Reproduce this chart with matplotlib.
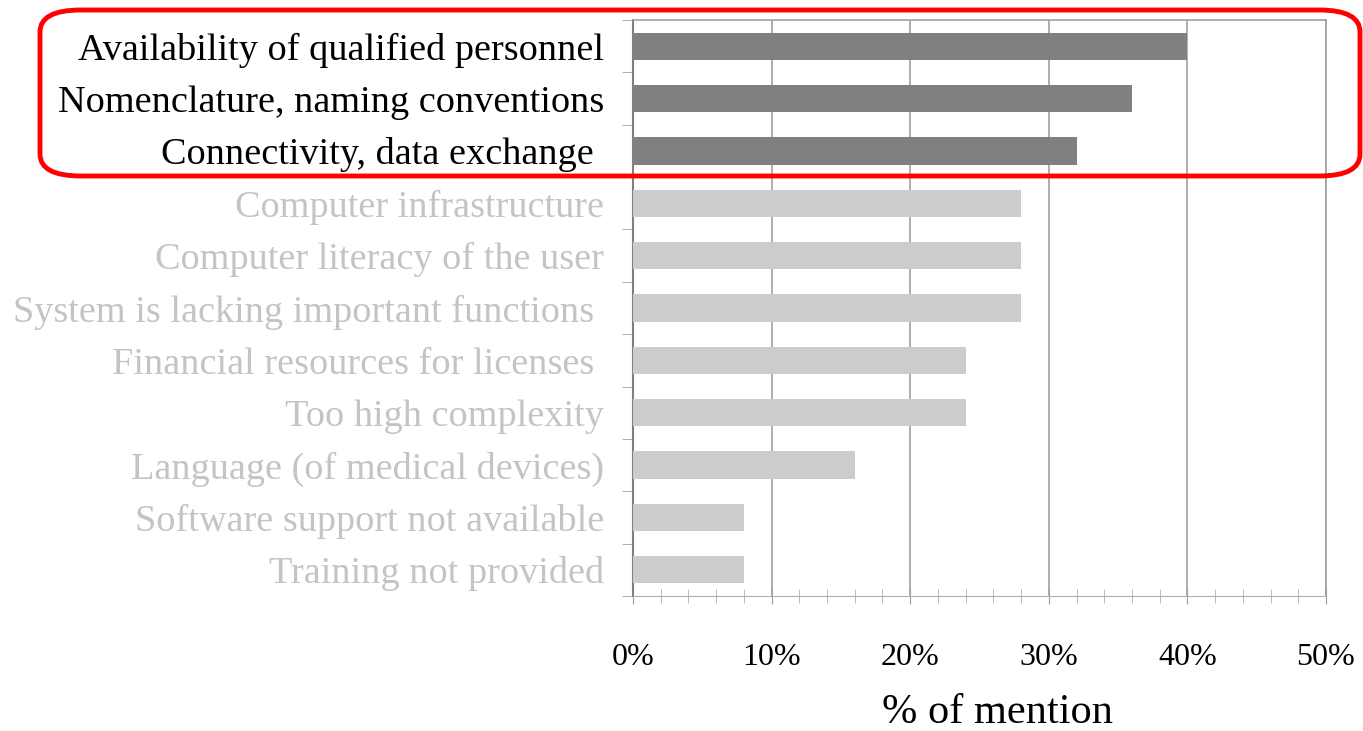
import numpy as np
import matplotlib
matplotlib.use("Agg")
import matplotlib.pyplot as plt
from matplotlib.patches import FancyBboxPatch

categories = [
    "Availability of qualified personnel",
    "Nomenclature, naming conventions",
    "Connectivity, data exchange ",
    "Computer infrastructure",
    "Computer literacy of the user",
    "System is lacking important functions ",
    "Financial resources for licenses ",
    "Too high complexity",
    "Language (of medical devices)",
    "Software support not available",
    "Training not provided",
]
values = [40, 36, 32, 28, 28, 28, 24, 24, 16, 8, 8]
highlighted = [True, True, True, False, False, False, False, False, False, False, False]
x_ticks = [0, 10, 20, 30, 40, 50]
x_tick_labels = ["0%", "10%", "20%", "30%", "40%", "50%"]

plt.rcParams['font.family'] = ['Liberation Serif', 'DejaVu Serif']

fig = plt.figure(figsize=(13.63, 7.31), dpi=100)
ax = fig.add_axes([633 / 1363, 1 - 596 / 731, (1326 - 633) / 1363, (596 - 20) / 731])

y = np.arange(len(categories))
dark = "#808080"
faded = "#cccccc"
faded_text = "#c4c4c4"
colors = [dark if h else faded for h in highlighted]

ax.set_axisbelow(True)
ax.xaxis.grid(True, which="major", color="#a0a0a0", linewidth=1.2)
ax.barh(y, values, height=0.52, color=colors, zorder=3)

ax.set_xlim(0, 50)
ax.set_ylim(len(categories) - 0.5, -0.5)

ax.set_xticks(x_ticks)
ax.set_xticklabels(x_tick_labels, fontsize=23)
ax.set_xticks(np.arange(0, 51, 2), minor=True)
ax.tick_params(axis="x", which="major", direction="inout", length=12, pad=28, color="#a0a0a0")
ax.tick_params(axis="x", which="minor", direction="inout", length=10, color="#b0b0b0")

ax.set_yticks(y)
ax.set_yticklabels(categories, fontsize=27.5)
ax.set_yticks(np.arange(-0.5, len(categories), 1), minor=True)
ax.tick_params(axis="y", which="major", length=0, pad=21)
ax.tick_params(axis="y", which="minor", direction="out", length=8, color="#a0a0a0")
for lbl, h in zip(ax.get_yticklabels(), highlighted):
    lbl.set_color("black" if h else faded_text)

for s in ["top", "right"]:
    ax.spines[s].set_color("#a0a0a0")
    ax.spines[s].set_linewidth(1.2)
ax.spines["left"].set_color("#808080")
ax.spines["left"].set_linewidth(1.5)
ax.spines["bottom"].set_color("#b0b0b0")
ax.spines["bottom"].set_linestyle((0, (2, 1)))

fig.text(997 / 1363, 1 - 713 / 731, "% of mention", fontsize=30.5,
         ha="center", va="center")

box = FancyBboxPatch((40 / 1363, 1 - 176 / 731), (1360 - 40) / 1363, (176 - 10) / 731,
                     boxstyle="round,pad=0,rounding_size=0.03",
                     transform=fig.transFigure, fill=False,
                     edgecolor="#ff0000", linewidth=3.5, zorder=10)
fig.patches.append(box)

fig.savefig("out.png", dpi=100)
